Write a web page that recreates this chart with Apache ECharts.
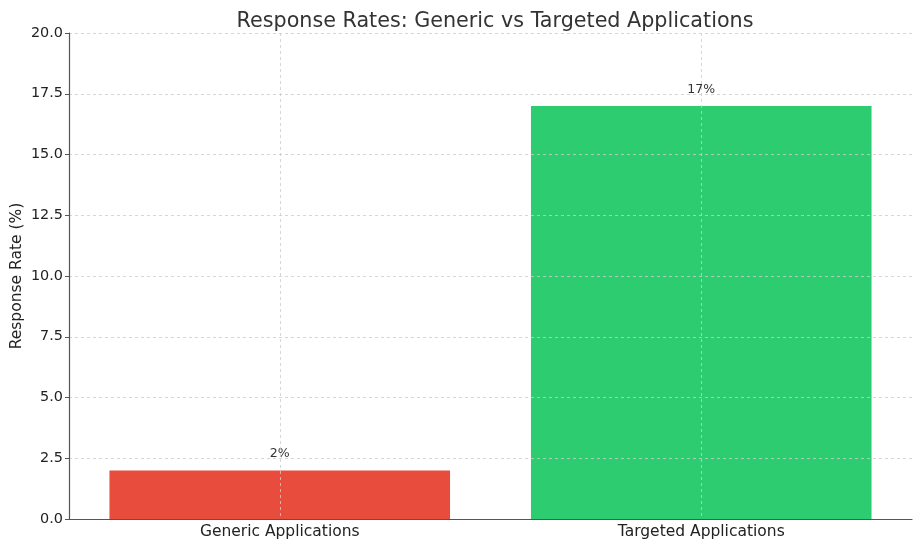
<!DOCTYPE html>
<html>
<head>
<meta charset="utf-8">
<script src="https://cdn.jsdelivr.net/npm/echarts@6/dist/echarts.min.js"></script>
<style>
  html, body { margin: 0; padding: 0; background: #fff; }
  #chartMain { width: 921px; height: 549px; }
</style>
</head>
<body>
<div id="chartMain"></div>
<script>
// data
const categories = ['Generic Applications', 'Targeted Applications'];
const responseRates = [2, 17];
const barColors = ['#e74c3c', '#2ecc71'];
const valueLabels = ['2%', '17%'];

const font = 'DejaVu Sans';
const gridLine = { show: true, lineStyle: { color: '#cccccc', type: [3, 3], width: 0.8 } };

const myChart = echarts.init(document.getElementById('chartMain'));
myChart.setOption({
    animation: false,
    title: {
        text: 'Response Rates: Generic vs Targeted Applications',
        left: 490,
        textAlign: 'center',
        top: 6,
        textStyle: { fontFamily: font, fontSize: 20.7, fontWeight: 'normal', color: '#333' }
    },
    grid: { left: 69, right: 9, top: 33, bottom: 30, outerBoundsMode: 'none' },
    xAxis: {
        type: 'category',
        data: categories,
        z: 5,
        axisLine: { lineStyle: { color: '#555', width: 1.2 } },
        axisTick: { alignWithLabel: true, length: 4, lineStyle: { color: '#555' } },
        splitLine: Object.assign({ alignWithLabel: true }, gridLine),
        axisLabel: { fontFamily: font, fontSize: 15.5, color: '#222', margin: 5 }
    },
    yAxis: {
        type: 'value',
        min: 0,
        max: 20,
        interval: 2.5,
        z: 5,
        name: 'Response Rate (%)',
        nameLocation: 'middle',
        nameGap: 44,
        nameMoveOverlap: false,
        nameTextStyle: { fontFamily: font, fontSize: 15.5, color: '#222' },
        axisLine: { show: true, lineStyle: { color: '#555', width: 1.2 } },
        axisTick: { show: true, length: 4, lineStyle: { color: '#555' } },
        splitLine: gridLine,
        axisLabel: {
            fontFamily: font, fontSize: 14.4, color: '#222', margin: 6,
            formatter: v => v.toFixed(1)
        }
    },
    series: [{
        type: 'bar',
        barWidth: '80.8%',
        data: responseRates.map((v, i) => ({ value: v, itemStyle: { color: barColors[i] } })),
        label: {
            show: true,
            position: 'top',
            distance: 10,
            fontFamily: font,
            fontSize: 12.5,
            color: '#333',
            formatter: p => valueLabels[p.dataIndex]
        }
    }]
});
</script>
</body>
</html>
